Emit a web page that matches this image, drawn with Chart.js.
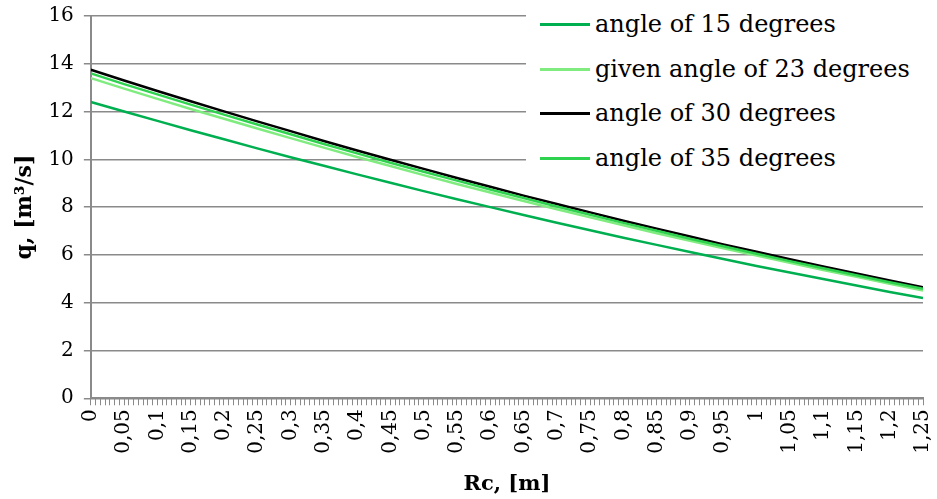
<!DOCTYPE html>
<html>
<head>
<meta charset="utf-8">
<title>q vs Rc</title>
<script src="https://cdn.jsdelivr.net/npm/chart.js@4.4.1/dist/chart.umd.min.js"></script>
<style>
  html, body { margin: 0; padding: 0; background: #fff; }
  #wrap { position: relative; width: 937px; height: 499px; }
  #legend {
    position: absolute; left: 526px; top: 0; width: 411px; height: 182px;
    background: #fff; font-family: "DejaVu Serif", serif; font-size: 24px; color: #000;
  }
  .item { position: absolute; left: 14px; height: 30px; display: flex; align-items: center; white-space: nowrap; }
  .swatch { width: 50px; height: 3px; margin-right: 5px; }
</style>
</head>
<body>
<div id="wrap">
  <canvas id="chart" width="937" height="499"></canvas>
  <div id="legend"></div>
</div>
<script>
// Rc values along the x axis and the labels printed under them
const rc = [0, 0.05, 0.1, 0.15, 0.2, 0.25, 0.3, 0.35, 0.4, 0.45, 0.5, 0.55, 0.6,
            0.65, 0.7, 0.75, 0.8, 0.85, 0.9, 0.95, 1, 1.05, 1.1, 1.15, 1.2, 1.25];
const rcLabels = ['0', '0,05', '0,1', '0,15', '0,2', '0,25', '0,3', '0,35', '0,4', '0,45', '0,5',
                  '0,55', '0,6', '0,65', '0,7', '0,75', '0,8', '0,85', '0,9', '0,95', '1',
                  '1,05', '1,1', '1,15', '1,2', '1,25'];

const names = ['angle of 15 degrees', 'given angle of 23 degrees', 'angle of 30 degrees', 'angle of 35 degrees'];

// q, m3/s
const q15 = [12.40, 12.00, 11.61, 11.22, 10.84, 10.46, 10.09, 9.73, 9.37, 9.02, 8.67, 8.33, 8.00,
             7.67, 7.35, 7.03, 6.72, 6.42, 6.12, 5.83, 5.54, 5.26, 4.99, 4.72, 4.45, 4.20];
const q23 = [13.40, 12.96, 12.53, 12.11, 11.70, 11.29, 10.89, 10.49, 10.10, 9.72, 9.34, 8.97, 8.61,
             8.26, 7.91, 7.57, 7.24, 6.91, 6.59, 6.28, 5.97, 5.67, 5.37, 5.08, 4.79, 4.51];
const q30 = [13.75, 13.30, 12.86, 12.43, 12.01, 11.59, 11.18, 10.77, 10.37, 9.98, 9.60, 9.22, 8.85,
             8.48, 8.13, 7.78, 7.43, 7.10, 6.77, 6.44, 6.13, 5.82, 5.52, 5.22, 4.93, 4.65];
const q35 = [13.60, 13.15, 12.72, 12.29, 11.87, 11.46, 11.05, 10.64, 10.25, 9.86, 9.48, 9.11, 8.74,
             8.38, 8.03, 7.68, 7.34, 7.01, 6.68, 6.36, 6.05, 5.74, 5.44, 5.15, 4.86, 4.58];

const yTicks = [0, 2, 4, 6, 8, 10, 12, 14, 16];

const pts = (arr) => arr.map((v, i) => ({ x: rc[i], y: v }));

const minorStep = 0.05 / 7;
const serif = '"DejaVu Serif", serif';

const datasets = [
  { label: names[0], data: pts(q15), borderColor: '#00b050' },
  { label: names[1], data: pts(q23), borderColor: '#80ec80' },
  { label: names[2], data: pts(q30), borderColor: '#000000' },
  { label: names[3], data: pts(q35), borderColor: '#2ed24f' }
].map(d => Object.assign(d, { borderWidth: 2.5, pointRadius: 0, fill: false, tension: 0 }));

const ctx = document.getElementById('chart').getContext('2d');
const chart = new Chart(ctx, {
  type: 'line',
  data: { datasets: datasets.slice().reverse() },
  options: {
    responsive: false,
    animation: false,
    layout: { padding: { top: 0, right: 0, left: 8, bottom: 2 } },
    plugins: { legend: { display: false }, tooltip: { enabled: false } },
    scales: {
      x: {
        type: 'linear',
        min: 0,
        max: 1.25,
        afterFit: (s) => { s.paddingRight = 14; },
        grid: { drawOnChartArea: false, tickLength: 7, tickColor: '#8a8a8a', lineWidth: 1 },
        border: { color: '#8a8a8a', width: 2 },
        ticks: {
          stepSize: minorStep,
          autoSkip: false,
          maxRotation: 90,
          minRotation: 90,
          padding: 4,
          color: '#000',
          font: { family: serif, size: 20 },
          callback: (v) => {
            const k = Math.round(v / 0.05);
            return Math.abs(v - k * 0.05) < 1e-6 ? rcLabels[k] : '';
          }
        },
        title: { display: true, text: 'Rc, [m]', color: '#000', font: { family: serif, size: 21, weight: 'bold' }, padding: { top: 14, bottom: 0 } }
      },
      y: {
        min: 0,
        max: 16,
        afterBuildTicks: (s) => { s.ticks = yTicks.map(v => ({ value: v })); },
        afterFit: (s) => { s.paddingTop = 16; },
        grid: { color: '#8a8a8a', lineWidth: 1.5, tickLength: 7 },
        border: { color: '#8a8a8a', width: 2 },
        ticks: { color: '#000', padding: 10, font: { family: serif, size: 20 } },
        title: { display: true, text: 'q, [m³/s]', color: '#000', font: { family: serif, size: 22, weight: 'bold' }, padding: { top: 4, bottom: 0 } }
      }
    }
  }
});

// legend drawn over the upper right of the plot
const legend = document.getElementById('legend');
const rowCenters = [24, 69, 113, 158];
datasets.forEach((d, i) => {
  const item = document.createElement('div');
  item.className = 'item';
  item.style.top = (rowCenters[i] - 15) + 'px';
  const sw = document.createElement('span');
  sw.className = 'swatch';
  sw.style.background = d.borderColor;
  const txt = document.createElement('span');
  txt.textContent = d.label;
  item.appendChild(sw);
  item.appendChild(txt);
  legend.appendChild(item);
});
</script>
</body>
</html>
